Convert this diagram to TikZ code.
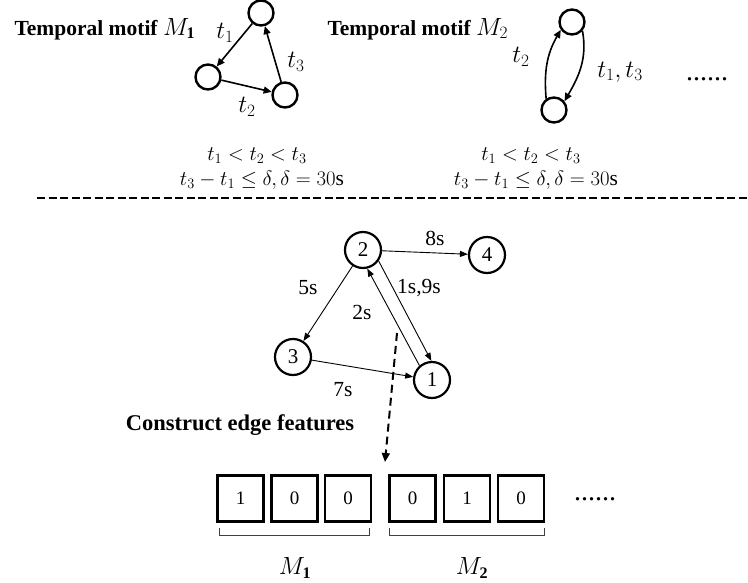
\documentclass[tikz,border=0pt]{standalone}
\usepackage{fontspec}
\setmainfont{Liberation Serif}
\usetikzlibrary{arrows.meta}
\tikzset{
  mnode/.style={circle,draw,line width=2.4pt,minimum size=25pt,inner sep=0pt},
  gnode/.style={circle,draw,line width=2.2pt,minimum size=36pt,inner sep=0pt,font=\fontsize{21}{24}\selectfont},
  marrow/.style={line width=1.6pt,-{Triangle[length=8pt,width=7pt]}},
  garrow/.style={line width=0.9pt,-{Triangle[length=8pt,width=6pt]}},
  title/.style={font=\fontsize{21.5}{24}\selectfont\bfseries},
  mlab/.style={font=\fontsize{23}{24}\selectfont,inner sep=1pt},
  clab/.style={font=\fontsize{21.5}{22}\selectfont,inner sep=0pt},
  glab/.style={font=\fontsize{21.5}{22}\selectfont},
  fbox/.style={draw,line width=2.2pt,minimum size=46pt,inner sep=0pt,font=\fontsize{19}{22}\selectfont},
  dots/.style={font=\fontsize{28}{30}\selectfont},
  brace/.style={draw=black!75,line width=0.9pt},
}
\begin{document}
\begin{tikzpicture}[x=1pt,y=1pt]
\useasboundingbox (0,0) rectangle (748,-582);
% titles
\node[title,anchor=west] (tm1) at (11,-29) {Temporal motif \fontsize{23}{24}\selectfont$M_{\mathbf{1}}$};
\node[title,anchor=west] (tm2) at (324,-29) {Temporal motif \fontsize{23}{24}\selectfont$M_{2}$};
% motif 1
\node[mnode] (a) at (261,-13) {};
\node[mnode] (b) at (208,-77) {};
\node[mnode] (c) at (285,-95) {};
\draw[marrow] (a) -- (b);
\draw[marrow] (b) -- (c);
\draw[marrow] (c) -- (a);
\node[mlab] (l1) at (225,-33) {$t_1$};
\node[mlab] (l2) at (247,-107) {$t_2$};
\node[mlab] (l3) at (296,-62) {$t_3$};
% motif 2
\node[mnode] (t) at (572,-22) {};
\node[mnode] (u) at (554,-110) {};
\draw[marrow] (u.125) to[out=95,in=240] (t.215);
\draw[marrow] (t.-40) to[out=-80,in=60] (u.40);
\node[mlab] (l4) at (521,-57) {$t_2$};
\node[mlab] (l5) at (620,-72) {$t_1,t_3$};
\node[dots] (d1) at (707,-79) {......};
% constraints
\node[clab] (c1a) at (257,-156) {$t_1<t_2<t_3$};
\node[clab] (c1b) at (262,-180) {$t_3-t_1\le\delta,\delta=30\mathrm{s}$};
\node[clab] (c2a) at (531,-156) {$t_1<t_2<t_3$};
\node[clab] (c2b) at (536,-180) {$t_3-t_1\le\delta,\delta=30\mathrm{s}$};
% separator
\coordinate (s1) at (37,-198);
\coordinate (s2) at (748,-198);
\draw[line width=2.6pt,dash pattern=on 8pt off 3.5pt] (s1) -- (s2);
% graph
\node[gnode] (n2) at (363,-250) {2};
\node[gnode] (n4) at (487,-255) {4};
\node[gnode] (n3) at (293,-357) {3};
\node[gnode] (n1) at (432,-380) {1};
\draw[garrow] (n2) -- (n4);
\draw[garrow] (n2) -- (n3);
\draw[garrow] (n3) -- (n1);
\draw[garrow] (n2.-35) -- (n1.92);
\draw[garrow] (n1.131) -- (n2.-77);
\node[glab] (e8) at (435,-238) {8s};
\node[glab] (e5) at (308,-288) {5s};
\node[glab] (e19) at (419,-288) {1s,9s};
\node[glab] (e2) at (362,-312) {2s};
\node[glab] (e7) at (343,-390) {7s};
% dashed arrow
\coordinate (da) at (397,-333);
\coordinate (db) at (385,-462);
\draw[line width=2pt,dash pattern=on 8pt off 5pt,-{Triangle[length=9pt,width=8pt]}] (da) -- (db);
\node[title,font=\fontsize{22.5}{24}\selectfont\bfseries] (cef) at (240,-425) {Construct edge features};
% feature boxes
\node[fbox] (f1) at (240.5,-498.5) {1};
\node[fbox] (f2) at (294.5,-498.5) {0};
\node[fbox] (f3) at (348,-498.5) {0};
\node[fbox] (f4) at (412.5,-498.5) {0};
\node[fbox] (f5) at (467,-498.5) {1};
\node[fbox] (f6) at (521,-498.5) {0};
\node[dots] (d2) at (595,-499) {......};
% braces
\draw[brace] (219,-528) -- (219,-535) -- (369,-535) -- (369,-528);
\draw[brace] (389,-528) -- (389,-535) -- (544,-535) -- (544,-528);
\node[mlab] (m1) at (295,-568) {$M_{\mathbf{1}}$};
\node[mlab] (m2) at (472,-568) {$M_{\mathbf{2}}$};
\end{tikzpicture}
\end{document}
